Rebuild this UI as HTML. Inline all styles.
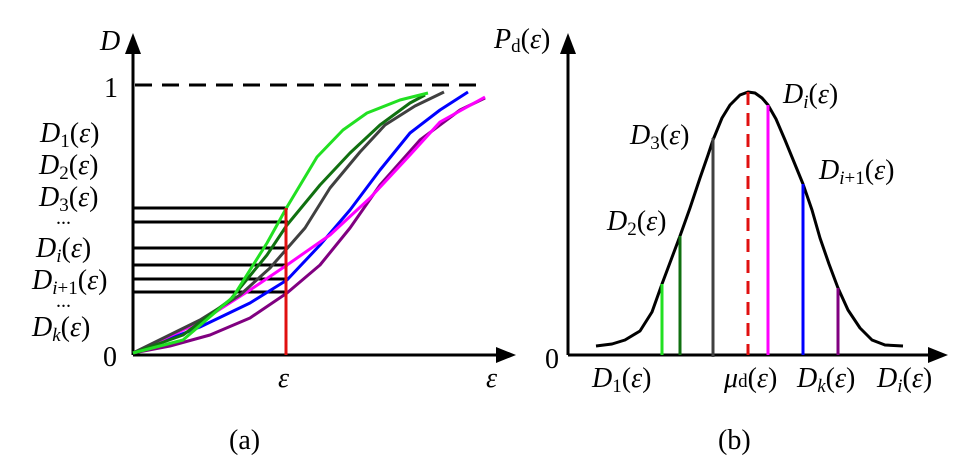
<!DOCTYPE html>
<html><head><meta charset="utf-8"><style>
html,body{margin:0;padding:0;background:#fff;}
svg{display:block;}
svg text{font-family:'Liberation Serif','DejaVu Serif',serif;}
.i{font-style:italic;}
</style></head><body>
<svg width="970" height="469" viewBox="0 0 970 469" xmlns="http://www.w3.org/2000/svg">
<line x1="133" y1="355" x2="133" y2="50" stroke="#000" stroke-width="3"/>
<polygon points="133,33 125,54 141,54" fill="#000"/>
<line x1="133" y1="355" x2="500" y2="355" stroke="#000" stroke-width="3"/>
<polygon points="516,355 496,347 496,363" fill="#000"/>
<line x1="135" y1="85" x2="478" y2="85" stroke="#000" stroke-width="3" stroke-dasharray="17,10"/>
<g stroke="#000" stroke-width="3">
<line x1="133" y1="208" x2="288" y2="208"/>
<line x1="133" y1="222" x2="288" y2="222"/>
<line x1="133" y1="248" x2="288" y2="248"/>
<line x1="133" y1="265" x2="288" y2="265"/>
<line x1="133" y1="279" x2="288" y2="279"/>
<line x1="133" y1="292" x2="288" y2="292"/>
</g>
<g fill="none" stroke-width="3" stroke-linejoin="round">
<polyline stroke="#800080" points="133,353 170,346 210,335 250,318 287,293 320,265 350,228 380,185 420,140 460,110 485,98"/>
<polyline stroke="#0000ff" points="133,353 200,327 250,303 287,280 320,245 350,210 380,170 410,133 440,110 468,92"/>
<polyline stroke="#ff00ff" points="133,353 200,322 250,290 287,265 330,235 370,198 410,155 440,122 485,97"/>
<polyline stroke="#404040" points="133,353 200,320 240,295 270,268 305,228 330,188 360,152 385,125 415,106 444,92"/>
<polyline stroke="#107010" points="133,353 183,335 230,300 267,255 287,225 320,185 350,153 380,125 410,103 425,95"/>
<polyline stroke="#22e022" points="133,353 183,340 233,297 267,243 287,207 317,157 343,130 367,113 400,100 428,93"/>
</g>
<line x1="286" y1="208" x2="286" y2="355" stroke="#e01010" stroke-width="3"/>
<g font-family="'Liberation Serif','DejaVu Serif',serif" font-size="28" fill="#000">
<text class="i" x="100" y="50">D</text>
<text x="104" y="97">1</text>
<text x="103" y="366">0</text>
<text class="i" x="278" y="387">ε</text>
<text class="i" x="486" y="387">ε</text>
<text x="40" y="142"><tspan class="i">D</tspan><tspan font-size="19" dy="5">1</tspan><tspan dy="-5">(</tspan><tspan class="i">ε</tspan>)</text>
<text x="39" y="174"><tspan class="i">D</tspan><tspan font-size="19" dy="5">2</tspan><tspan dy="-5">(</tspan><tspan class="i">ε</tspan>)</text>
<text x="39" y="206"><tspan class="i">D</tspan><tspan font-size="19" dy="5">3</tspan><tspan dy="-5">(</tspan><tspan class="i">ε</tspan>)</text>
<text x="56" y="224" font-size="20">...</text>
<text x="36" y="257"><tspan class="i">D</tspan><tspan class="i" font-size="19" dy="5">i</tspan><tspan dy="-5">(</tspan><tspan class="i">ε</tspan>)</text>
<text x="32" y="289"><tspan class="i">D</tspan><tspan font-size="19" dy="5"><tspan class="i">i</tspan>+1</tspan><tspan dy="-5">(</tspan><tspan class="i">ε</tspan>)</text>
<text x="56" y="307" font-size="20">...</text>
<text x="32" y="336"><tspan class="i">D</tspan><tspan class="i" font-size="19" dy="5">k</tspan><tspan dy="-5">(</tspan><tspan class="i">ε</tspan>)</text>
<text x="229" y="449">(a)</text>
</g>
<line x1="568" y1="355" x2="568" y2="50" stroke="#000" stroke-width="3"/>
<polygon points="568,33 560,54 576,54" fill="#000"/>
<line x1="568" y1="355" x2="930" y2="355" stroke="#000" stroke-width="3"/>
<polygon points="948,355 928,347 928,363" fill="#000"/>
<polyline fill="none" stroke="#000" stroke-width="3" stroke-linejoin="round" points="596,346 612,344 625,340 640,331 652,312 662,284 671,260 680,236 690,208 700,178 708,155 713,140 722,118 730,105 740,95 748,92 755,93 762,98 768,105 776,119 785,140 794,162 803,184 812,210 820,238 829,264 838,288 848,310 860,328 872,340 885,345 903,346"/>
<g stroke-width="3">
<line x1="662" y1="284" x2="662" y2="355" stroke="#22e022"/>
<line x1="680" y1="236" x2="680" y2="355" stroke="#107010"/>
<line x1="713" y1="138" x2="713" y2="357" stroke="#404040"/>
<line x1="748" y1="92" x2="748" y2="355" stroke="#e01010" stroke-dasharray="13,8"/>
<line x1="768" y1="105" x2="768" y2="355" stroke="#ff00ff"/>
<line x1="803" y1="184" x2="803" y2="355" stroke="#0000ff"/>
<line x1="838" y1="288" x2="838" y2="355" stroke="#800080"/>
</g>
<g font-family="'Liberation Serif','DejaVu Serif',serif" font-size="28" fill="#000">
<text x="494" y="48"><tspan class="i">P</tspan><tspan font-size="19" dy="4">d</tspan><tspan dy="-4">(</tspan><tspan class="i">ε</tspan>)</text>
<text x="545" y="368">0</text>
<text x="592" y="387"><tspan class="i">D</tspan><tspan font-size="19" dy="5">1</tspan><tspan dy="-5">(</tspan><tspan class="i">ε</tspan>)</text>
<text x="724" y="387"><tspan class="i">μ</tspan><tspan font-size="19">d</tspan>(<tspan class="i">ε</tspan>)</text>
<text x="797" y="387"><tspan class="i">D</tspan><tspan class="i" font-size="19" dy="5">k</tspan><tspan dy="-5">(</tspan><tspan class="i">ε</tspan>)</text>
<text x="877" y="387"><tspan class="i">D</tspan><tspan class="i" font-size="19" dy="5">i</tspan><tspan dy="-5">(</tspan><tspan class="i">ε</tspan>)</text>
<text x="607" y="230"><tspan class="i">D</tspan><tspan font-size="19" dy="5">2</tspan><tspan dy="-5">(</tspan><tspan class="i">ε</tspan>)</text>
<text x="630" y="144"><tspan class="i">D</tspan><tspan font-size="19" dy="5">3</tspan><tspan dy="-5">(</tspan><tspan class="i">ε</tspan>)</text>
<text x="783" y="103"><tspan class="i">D</tspan><tspan class="i" font-size="19" dy="5">i</tspan><tspan dy="-5">(</tspan><tspan class="i">ε</tspan>)</text>
<text x="819" y="179"><tspan class="i">D</tspan><tspan font-size="19" dy="5"><tspan class="i">i</tspan>+1</tspan><tspan dy="-5">(</tspan><tspan class="i">ε</tspan>)</text>
<text x="718" y="449">(b)</text>
</g>
</svg>
</body></html>
